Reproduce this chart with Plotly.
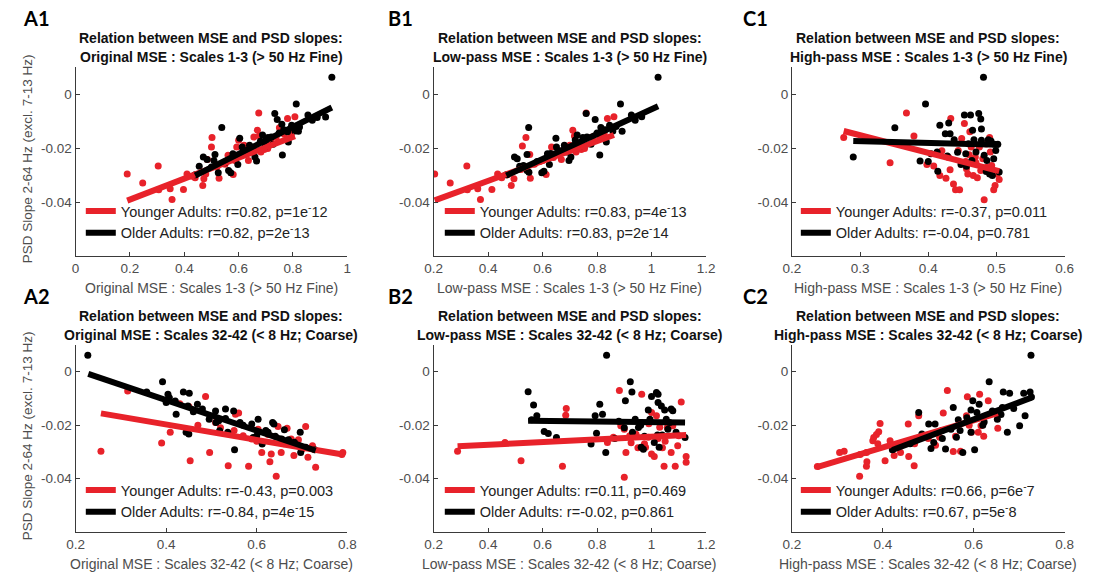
import plotly.graph_objects as go

W, H = 1093, 577
RED = '#E8222A'
BLACK = '#000000'
FONT = 'Liberation Sans, Arial, sans-serif'

# ---------------- data (x = MSE, y = PSD slope) ----------------
A1_young = [(0.19,-0.0296),(0.247,-0.033),(0.304,-0.0267),(0.306,-0.0355),(0.348,-0.0351),(0.355,-0.0391),
            (0.397,-0.0354),(0.41,-0.0296),(0.468,-0.0339),(0.472,-0.0314),(0.479,-0.0296),(0.485,-0.0243),
            (0.50,-0.0196),(0.502,-0.0161),(0.528,-0.0312),(0.561,-0.0227),(0.58,-0.0298),(0.587,-0.0246),
            (0.593,-0.0196),(0.60,-0.0171),(0.624,-0.0224),(0.636,-0.0246),(0.656,-0.0159),(0.669,-0.0134),
            (0.674,-0.007),(0.676,-0.0155),(0.682,-0.0215),(0.694,-0.0206),(0.707,-0.0202),(0.72,-0.018),
            (0.738,-0.0161),(0.768,-0.0149),(0.78,-0.0091),(0.79,-0.0132),(0.793,-0.0153),(0.807,-0.0084),
            (0.52,-0.027),(0.44,-0.031),(0.65,-0.021),(0.55,-0.026),(0.62,-0.019),(0.75,-0.0125),(0.43,-0.0305),(0.70,-0.0175)]
A1_old = [(0.44,-0.0299),(0.455,-0.0268),(0.47,-0.0233),(0.484,-0.0243),(0.509,-0.0246),(0.513,-0.0224),
          (0.525,-0.0292),(0.538,-0.0124),(0.563,-0.0283),(0.571,-0.0292),(0.579,-0.0221),(0.597,-0.0261),
          (0.604,-0.0164),(0.613,-0.0196),(0.624,-0.0211),(0.648,-0.0215),(0.654,-0.0206),(0.66,-0.0233),
          (0.666,-0.0248),(0.688,-0.0152),(0.698,-0.0194),(0.708,-0.0161),(0.72,-0.0159),(0.727,-0.0186),
          (0.733,-0.0072),(0.742,-0.0094),(0.749,-0.0144),(0.759,-0.0112),(0.761,-0.0226),(0.766,-0.0132),
          (0.783,-0.0178),(0.795,-0.0116),(0.807,-0.0137),(0.812,-0.0037),(0.82,-0.0138),(0.824,-0.0122),
          (0.855,-0.0078),(0.871,-0.0097),(0.889,-0.0087),(0.943,0.0062),(0.59,-0.024),(0.64,-0.019),
          (0.70,-0.017),(0.55,-0.0255),(0.92,-0.0085),(0.50,-0.027),(0.68,-0.0175),(0.78,-0.014)]
B1_young = [(0.204,-0.0296),(0.261,-0.033),(0.322,-0.0267),(0.324,-0.0355),(0.362,-0.0351),(0.372,-0.0391),
            (0.414,-0.0354),(0.435,-0.0296),(0.485,-0.0339),(0.495,-0.0314),(0.526,-0.0193),(0.539,-0.0161),
            (0.553,-0.0224),(0.555,-0.0312),(0.600,-0.0246),(0.613,-0.0298),(0.633,-0.0196),(0.669,-0.0243),
            (0.711,-0.0134),(0.717,-0.0156),(0.723,-0.0215),(0.742,-0.0206),(0.754,-0.0202),(0.76,-0.007),
            (0.784,-0.0159),(0.826,-0.0147),(0.838,-0.0091),(0.862,-0.0084),(0.81,-0.0165),(0.59,-0.025),
            (0.64,-0.0235),(0.45,-0.031),(0.52,-0.028),(0.70,-0.019),(0.66,-0.021),(0.47,-0.03),(0.57,-0.026),(0.78,-0.016)]
B1_old = [(0.467,-0.0299),(0.497,-0.0233),(0.507,-0.024),(0.516,-0.0268),(0.543,-0.0224),(0.549,-0.0124),
          (0.543,-0.0283),(0.55,-0.029),(0.597,-0.0292),(0.605,-0.0286),(0.618,-0.0221),(0.625,-0.0261),
          (0.649,-0.0164),(0.651,-0.0196),(0.661,-0.0211),(0.69,-0.0215),(0.697,-0.0246),(0.704,-0.0233),
          (0.727,-0.0152),(0.736,-0.0194),(0.748,-0.0161),(0.76,-0.0072),(0.763,-0.0159),(0.778,-0.0186),
          (0.793,-0.0094),(0.80,-0.0144),(0.81,-0.0226),(0.814,-0.0124),(0.829,-0.0132),(0.834,-0.0178),
          (0.846,-0.0116),(0.858,-0.0137),(0.886,-0.0037),(0.892,-0.0138),(0.926,-0.0078),(0.94,-0.0097),
          (0.964,-0.0084),(1.024,0.0062),(0.58,-0.025),(0.63,-0.022),(0.68,-0.019),(0.72,-0.017),(0.87,-0.012),(0.53,-0.0265)]
C1_young = [(0.276,-0.0161),(0.344,-0.0255),(0.368,-0.007),(0.379,-0.0156),(0.398,-0.0261),(0.408,-0.0267),
            (0.417,-0.0302),(0.426,-0.0312),(0.432,-0.0281),(0.433,-0.0091),(0.437,-0.0333),(0.44,-0.0355),
            (0.446,-0.0355),(0.444,-0.0209),(0.449,-0.0165),(0.453,-0.0109),(0.456,-0.0277),(0.458,-0.0296),
            (0.461,-0.014),(0.463,-0.0196),(0.466,-0.0302),(0.469,-0.0233),(0.472,-0.031),(0.475,-0.0196),
            (0.477,-0.0283),(0.48,-0.024),(0.482,-0.0392),(0.486,-0.0271),(0.49,-0.0161),(0.491,-0.0215),
            (0.493,-0.0265),(0.496,-0.0355),(0.498,-0.0339),(0.501,-0.0296),(0.504,-0.0317),(0.455,-0.025),
            (0.47,-0.0255),(0.42,-0.021),(0.485,-0.0185),(0.46,-0.0225),(0.43,-0.0235)]
C1_old = [(0.29,-0.0233),(0.351,-0.0125),(0.396,-0.0037),(0.388,-0.0248),(0.40,-0.025),(0.404,-0.0221),
          (0.413,-0.0215),(0.414,-0.0286),(0.417,-0.0116),(0.425,-0.0147),(0.428,-0.023),(0.43,-0.0107),
          (0.432,-0.0147),(0.438,-0.0169),(0.443,-0.0216),(0.448,-0.0261),(0.453,-0.0078),(0.455,-0.0221),
          (0.456,-0.0268),(0.459,-0.0184),(0.462,-0.0078),(0.464,-0.0246),(0.465,-0.0134),(0.467,-0.0169),
          (0.47,-0.0215),(0.474,-0.0072),(0.477,-0.0093),(0.478,-0.0171),(0.481,0.0062),(0.482,-0.0227),
          (0.485,-0.0287),(0.486,-0.0246),(0.488,-0.0169),(0.49,-0.0296),(0.492,-0.0174),(0.494,-0.0302),
          (0.496,-0.024),(0.497,-0.0186),(0.499,-0.0209),(0.502,-0.0186),(0.504,-0.0289),(0.478,-0.013)]
A2_young = [(0.256,-0.0298),(0.315,-0.0072),(0.39,-0.0267),(0.409,-0.0227),(0.453,-0.0333),(0.487,-0.0093),
            (0.496,-0.0302),(0.509,-0.019),(0.537,-0.0352),(0.553,-0.0159),(0.56,-0.0155),(0.582,-0.0354),
            (0.589,-0.0252),(0.603,-0.0215),(0.611,-0.0302),(0.629,-0.0337),(0.632,-0.0308),(0.643,-0.0391),
            (0.647,-0.0205),(0.654,-0.0302),(0.667,-0.0212),(0.676,-0.0252),(0.682,-0.0314),(0.692,-0.0255),
            (0.708,-0.0205),(0.713,-0.032),(0.723,-0.0277),(0.73,-0.0358),(0.79,-0.0302),(0.788,-0.031),
            (0.625,-0.0235),(0.45,-0.013),(0.52,-0.021),(0.57,-0.024),(0.60,-0.026),(0.66,-0.027),
            (0.70,-0.029),(0.55,-0.022),(0.47,-0.02),(0.43,-0.012)]
A2_old = [(0.227,0.0062),(0.392,-0.0038),(0.357,-0.0076),(0.404,-0.0084),(0.407,-0.0097),(0.40,-0.0115),
          (0.422,-0.0159),(0.438,-0.0076),(0.451,-0.0081),(0.448,-0.0128),(0.444,-0.0227),(0.45,-0.0233),
          (0.469,-0.0122),(0.495,-0.0178),(0.509,-0.0147),(0.516,-0.0184),(0.518,-0.0221),(0.531,-0.014),
          (0.531,-0.0175),(0.536,-0.0227),(0.549,-0.0147),(0.551,-0.0292),(0.563,-0.019),(0.589,-0.0196),
          (0.592,-0.0246),(0.603,-0.0178),(0.612,-0.0271),(0.625,-0.0227),(0.635,-0.019),(0.638,-0.0196),
          (0.641,-0.0242),(0.655,-0.0252),(0.661,-0.0217),(0.696,-0.0227),(0.697,-0.0302),(0.708,-0.0283),
          (0.728,-0.0292),(0.683,-0.0264),(0.46,-0.015),(0.48,-0.014),(0.57,-0.02),(0.62,-0.022),
          (0.60,-0.024),(0.67,-0.0255),(0.51,-0.019),(0.42,-0.011)]
B2_young = [(0.288,-0.0298),(0.462,-0.0265),(0.521,-0.0333),(0.673,-0.0354),(0.687,-0.0138),(0.685,-0.0163),
            (0.838,-0.0265),(0.882,-0.007),(0.887,-0.0202),(0.90,-0.0215),(0.90,-0.0395),(0.906,-0.0302),
            (0.925,-0.0266),(0.943,-0.0234),(0.964,-0.0084),(0.974,-0.027),(0.978,-0.0283),(0.988,-0.0245),
            (1.0,-0.0308),(1.01,-0.0317),(1.024,-0.025),(1.03,-0.0208),(1.046,-0.0354),(1.058,-0.0209),
            (1.072,-0.0302),(1.078,-0.0202),(1.087,-0.0354),(1.096,-0.0277),(1.109,-0.0113),(1.127,-0.0317),
            (1.127,-0.0339),(1.0,-0.0153),(1.018,-0.0165),(0.95,-0.0285),(0.92,-0.024),(1.05,-0.026),
            (0.86,-0.0245),(1.1,-0.024),(0.99,-0.0195),(1.04,-0.0285)]
B2_old = [(0.547,-0.0075),(0.567,-0.0125),(0.579,-0.0165),(0.606,-0.0224),(0.621,-0.0231),(0.651,-0.0246),
          (0.778,-0.0271),(0.81,-0.0122),(0.82,-0.0159),(0.793,-0.0165),(0.798,-0.023),(0.832,-0.0302),
          (0.835,0.0062),(0.865,-0.025),(0.904,-0.0109),(0.922,-0.0038),(0.928,-0.0076),(0.93,-0.0227),
          (0.94,-0.0178),(0.952,-0.0209),(0.962,-0.0283),(0.97,-0.029),(0.974,-0.0242),(0.988,-0.0143),
          (0.994,-0.0178),(1.0,-0.0093),(1.01,-0.0265),(1.018,-0.0078),(1.022,-0.0237),(1.024,-0.0084),
          (1.024,-0.0115),(1.028,-0.0283),(1.036,-0.0128),(1.039,-0.0237),(1.048,-0.0143),(1.054,-0.0178),
          (1.066,-0.019),(1.072,-0.014),(1.078,-0.0146),(1.09,-0.0227),(1.123,-0.0246),(0.90,-0.021),
          (0.96,-0.02),(0.56,-0.018),(1.06,-0.0215),(0.88,-0.0185)]
C2_young = [(0.256,-0.0355),(0.305,-0.0302),(0.315,-0.0298),(0.349,-0.0391),(0.364,-0.0354),(0.365,-0.0337),
            (0.364,-0.0302),(0.378,-0.0258),(0.38,-0.0246),(0.386,-0.0235),(0.389,-0.027),(0.391,-0.0225),
            (0.394,-0.0194),(0.405,-0.0333),(0.416,-0.0258),(0.425,-0.0314),(0.439,-0.0302),(0.456,-0.0196),
            (0.457,-0.0317),(0.469,-0.0352),(0.479,-0.0165),(0.516,-0.0275),(0.533,-0.0155),(0.542,-0.007),
            (0.555,-0.0299),(0.56,-0.0242),(0.571,-0.0298),(0.584,-0.0165),(0.586,-0.0094),(0.595,-0.0227),
            (0.61,-0.0227),(0.613,-0.0084),(0.616,-0.0202),(0.622,-0.0242),(0.632,-0.0109),(0.653,-0.0212),
            (0.525,-0.0245),(0.43,-0.028),(0.35,-0.031),(0.47,-0.027),(0.50,-0.025),(0.59,-0.02)]
C2_old = [(0.421,-0.0292),(0.479,-0.0153),(0.486,-0.0233),(0.501,-0.0196),(0.515,-0.0196),(0.506,-0.0287),
          (0.512,-0.0265),(0.531,-0.025),(0.538,-0.0289),(0.55,-0.0215),(0.555,-0.0134),(0.562,-0.0245),
          (0.566,-0.018),(0.576,-0.0302),(0.585,-0.0172),(0.594,-0.0143),(0.594,-0.0227),(0.598,-0.0109),
          (0.602,-0.0292),(0.607,-0.0153),(0.612,-0.0122),(0.623,-0.0188),(0.634,-0.0038),(0.641,-0.0147),
          (0.652,-0.0178),(0.663,-0.0134),(0.665,-0.0076),(0.674,-0.0227),(0.679,-0.0081),(0.688,-0.0138),
          (0.701,-0.0202),(0.71,-0.0081),(0.713,-0.0165),(0.724,-0.0076),(0.726,0.0062),(0.727,-0.0095),
          (0.57,-0.022),(0.62,-0.02),(0.53,-0.022),(0.66,-0.016),(0.46,-0.027)]

# least-squares lines: (x_start, y_start), (x_end, y_end)
A1_young_fit = [(0.19,-0.0395),(0.807,-0.0156)]
A1_old_fit = [(0.44,-0.0302),(0.943,-0.005)]
B1_young_fit = [(0.204,-0.0394),(0.862,-0.0152)]
B1_old_fit = [(0.467,-0.0302),(1.024,-0.0045)]
C1_young_fit = [(0.276,-0.0137),(0.504,-0.0286)]
C1_old_fit = [(0.29,-0.0174),(0.504,-0.0188)]
A2_young_fit = [(0.256,-0.0156),(0.79,-0.031)]
A2_old_fit = [(0.228,-0.0008),(0.73,-0.0295)]
B2_young_fit = [(0.288,-0.0279),(1.127,-0.0237)]
B2_old_fit = [(0.547,-0.0184),(1.123,-0.019)]
C2_young_fit = [(0.255,-0.0357),(0.653,-0.0155)]
C2_old_fit = [(0.421,-0.0293),(0.727,-0.0097)]

young_stats = ['r=0.82, p=1e<sup>-</sup>12', 'r=0.83, p=4e<sup>-</sup>13', 'r=-0.37, p=0.011',
               'r=-0.43, p=0.003', 'r=0.11, p=0.469', 'r=0.66, p=6e<sup>-</sup>7']
old_stats = ['r=0.82, p=2e<sup>-</sup>13', 'r=0.83, p=2e<sup>-</sup>14', 'r=-0.04, p=0.781',
             'r=-0.84, p=4e<sup>-</sup>15', 'r=-0.02, p=0.861', 'r=0.67, p=5e<sup>-</sup>8']
panel_labels = ['A1', 'B1', 'C1', 'A2', 'B2', 'C2']
mse_types = ['Original MSE', 'Low-pass MSE', 'High-pass MSE']
scale_texts = ['Scales 1-3 (&gt; 50 Hz Fine)', 'Scales 32-42 (&lt; 8 Hz; Coarse)']
x_ranges = [[0, 1], [0.2, 1.2], [0.2, 0.6], [0.2, 0.8], [0.2, 1.2], [0.2, 0.8]]
x_ticks = [[0, 0.2, 0.4, 0.6, 0.8, 1], [0.2, 0.4, 0.6, 0.8, 1, 1.2], [0.2, 0.3, 0.4, 0.5, 0.6],
           [0.2, 0.4, 0.6, 0.8], [0.2, 0.4, 0.6, 0.8, 1, 1.2], [0.2, 0.4, 0.6, 0.8]]
y_ticks = [-0.04, -0.02, 0]
y_tick_text = ['-0.04', '-0.02', '0']
y_range = [-0.06, 0.01]
y_title = 'PSD Slope 2-64 Hz (excl. 7-13 Hz)'

young_sets = [A1_young, B1_young, C1_young, A2_young, B2_young, C2_young]
old_sets = [A1_old, B1_old, C1_old, A2_old, B2_old, C2_old]
young_fits = [A1_young_fit, B1_young_fit, C1_young_fit, A2_young_fit, B2_young_fit, C2_young_fit]
old_fits = [A1_old_fit, B1_old_fit, C1_old_fit, A2_old_fit, B2_old_fit, C2_old_fit]

# ---------------- layout geometry (window pixels) ----------------
col_px = [(67.7, 344.0), (431.7, 708.7), (796.0, 1073.3)]
row_px = [(67.0, 256.0), (345.0, 532.0)]
def fx(p): return p / W
def fy(p): return 1 - p / H

def unzip(pts):
    return [p[0] for p in pts], [p[1] for p in pts]

fig = go.Figure()
annotations = []
layout = dict(width=W, height=H, margin=dict(l=0, r=0, t=0, b=0), autosize=False,
              paper_bgcolor='white', plot_bgcolor='white', font=dict(family=FONT))

for i in range(6):
    r, c = divmod(i, 3)
    sfx = '' if i == 0 else str(i + 1)
    xa, ya = 'x' + sfx, 'y' + sfx
    leg = 'legend' if i == 0 else 'legend%d' % (i + 1)

    yx, yy = unzip(young_sets[i])
    ox, oy = unzip(old_sets[i])
    yfx, yfy = unzip(young_fits[i])
    ofx, ofy = unzip(old_fits[i])
    fig.add_trace(go.Scatter(x=yx, y=yy, mode='markers', marker=dict(color=RED, size=7),
                             xaxis=xa, yaxis=ya, showlegend=False, hoverinfo='skip'))
    fig.add_trace(go.Scatter(x=ox, y=oy, mode='markers', marker=dict(color=BLACK, size=7),
                             xaxis=xa, yaxis=ya, showlegend=False, hoverinfo='skip'))
    fig.add_trace(go.Scatter(x=yfx, y=yfy, mode='lines', line=dict(color=RED, width=6),
                             name='Younger Adults: ' + young_stats[i], legend=leg, xaxis=xa, yaxis=ya))
    fig.add_trace(go.Scatter(x=ofx, y=ofy, mode='lines', line=dict(color=BLACK, width=6),
                             name='Older Adults: ' + old_stats[i], legend=leg, xaxis=xa, yaxis=ya))

    x0, x1 = col_px[c]
    top, bot = row_px[r]
    axis_common = dict(showline=True, linecolor='#3a3a3a', linewidth=1, ticks='inside', ticklen=4,
                       tickcolor='#3a3a3a', showgrid=False, zeroline=False,
                       tickfont=dict(family=FONT, size=13.5, color='#4d4d4d'))
    layout['xaxis' + sfx] = dict(domain=[fx(x0), fx(x1)], anchor=ya, range=x_ranges[i],
                                 tickvals=x_ticks[i], ticktext=[('%g' % v) for v in x_ticks[i]], **axis_common)
    layout['yaxis' + sfx] = dict(domain=[fy(bot), fy(top)], anchor=xa, range=y_range,
                                 tickvals=y_ticks, ticktext=y_tick_text, **axis_common)

    cx = (x0 + x1) / 2
    title_top = top - 29
    annotations.append(dict(text='<b>Relation between MSE and PSD slopes:</b>', x=fx(cx), y=fy(title_top),
                            xref='paper', yref='paper', xanchor='center', yanchor='middle', showarrow=False,
                            font=dict(family=FONT, size=14, color='#111111')))
    annotations.append(dict(text='<b>%s : %s</b>' % (mse_types[c], scale_texts[r]), x=fx(cx), y=fy(title_top + 19),
                            xref='paper', yref='paper', xanchor='center', yanchor='middle', showarrow=False,
                            font=dict(family=FONT, size=14, color='#111111')))
    annotations.append(dict(text='%s : %s' % (mse_types[c], scale_texts[r]), x=fx(cx), y=fy(bot + 32),
                            xref='paper', yref='paper', xanchor='center', yanchor='middle', showarrow=False,
                            font=dict(family=FONT, size=14, color='#4d4d4d')))
    lab_x = [12, 383, 744][c]
    annotations.append(dict(text='<b>%s</b>' % panel_labels[i], x=fx(lab_x), y=fy(top - 49),
                            xref='paper', yref='paper', xanchor='left', yanchor='middle', showarrow=False,
                            font=dict(family='Lato, Open Sans, sans-serif', size=20, color='#000000')))
    if c == 0:
        annotations.append(dict(text=y_title, x=fx(19), y=fy((top + bot) / 2 - 3), textangle=-90,
                                xref='paper', yref='paper', xanchor='center', yanchor='middle', showarrow=False,
                                font=dict(family=FONT, size=13.5, color='#4d4d4d')))
    leg_line_x = [85, 450, 812][c]
    leg_top = [195, 474][r]
    layout[leg] = dict(x=fx(leg_line_x - 12), y=fy(leg_top), xanchor='left', yanchor='top',
                       bgcolor='rgba(0,0,0,0)', borderwidth=0, tracegroupgap=0, itemwidth=30,
                       font=dict(family=FONT, size=14.5, color='#222222'))

layout['annotations'] = annotations
fig.update_layout(**layout)
fig.write_html('out.html', config={'displayModeBar': False},
               post_script="document.body.style.margin='0px';")
